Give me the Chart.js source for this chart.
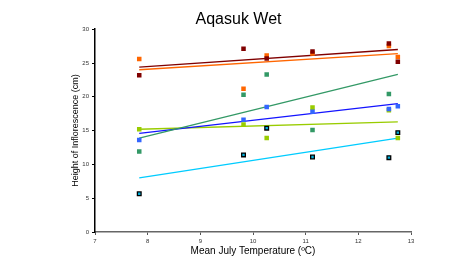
<!DOCTYPE html>
<html>
<head>
<meta charset="utf-8">
<script src="https://cdn.jsdelivr.net/npm/chart.js@4"></script>
<style>
  html, body { margin: 0; padding: 0; background: #fff; }
  #chart { display: block; }
</style>
</head>
<body>
<canvas id="chart" width="469" height="258"></canvas>
<script>
// site temperatures (x) and inflorescence heights per series
const temps = [7.84, 9.82, 10.26, 11.13, 12.58, 12.75];
const darkRed = [23.2, 27.1, 25.65, 26.7, 27.9, 25.2];
const orange = [25.6, 21.2, 26.1, 26.4, 27.5, 25.9];
const green = [11.9, 20.3, 23.3, 15.1, 20.4, null];
const blue = [13.6, 16.6, 18.5, 17.8, 18.2, 18.6];
const yellowGreen = [15.2, 15.9, 13.9, 18.4, 18.0, 13.9];
const cyan = [5.66, 11.4, 15.36, 11.1, 11.0, 14.7];

// trend line ends
const trendX = [7.84, 12.75];
const trendDarkRed = [24.4, 27.0];
const trendOrange = [24.0, 26.4];
const trendGreen = [13.9, 23.3];
const trendBlue = [14.6, 19.0];
const trendYellowGreen = [15.2, 16.3];
const trendCyan = [8.0, 13.9];

const xTicks = [7, 8, 9, 10, 11, 12, 13];
const yTicks = [0, 5, 10, 15, 20, 25, 30];

function pts(xs, ys) {
    return xs.map((x, i) => ({ x: x, y: ys[i] })).filter(p => p.y !== null);
}

function pointSet(ys, color, border) {
    return {
        data: pts(temps, ys),
        pointStyle: 'rect',
        pointRadius: border ? 2.6 : 3.2,
        pointBackgroundColor: color,
        pointBorderColor: border || color,
        pointBorderWidth: border ? 1.3 : 0,
        showLine: false,
        order: 0
    };
}

function trendSet(ys, color) {
    return {
        data: pts(trendX, ys),
        showLine: true,
        borderColor: color,
        borderWidth: 1.3,
        pointRadius: 0,
        fill: false,
        order: 1
    };
}

const tickFont = { family: 'Liberation Sans, Arial', size: 6 };

new Chart(document.getElementById('chart').getContext('2d'), {
    type: 'scatter',
    data: {
        datasets: [
            trendSet(trendDarkRed, '#800000'),
            trendSet(trendOrange, '#ff6600'),
            trendSet(trendGreen, '#339966'),
            trendSet(trendBlue, '#1414ff'),
            trendSet(trendYellowGreen, '#99cc00'),
            trendSet(trendCyan, '#00ccff'),
            pointSet(darkRed, '#800000'),
            pointSet(orange, '#ff6600'),
            pointSet(green, '#339966'),
            pointSet(blue, '#3366ff'),
            pointSet(yellowGreen, '#99cc00'),
            pointSet(cyan, '#00b0dd', '#000000')
        ]
    },
    options: {
        responsive: false,
        animation: false,
        layout: { padding: { left: 66, right: 58, top: 0, bottom: 0 } },
        plugins: {
            legend: { display: false },
            tooltip: { enabled: false },
            title: {
                display: true,
                text: 'Aqasuk Wet',
                color: '#000',
                font: { family: 'Liberation Sans, Arial', size: 16, weight: 'normal' },
                padding: { top: 10, bottom: 0 }
            }
        },
        scales: {
            x: {
                type: 'linear',
                min: 7,
                max: 13,
                afterBuildTicks: s => { s.ticks = xTicks.map(v => ({ value: v })); },
                afterFit: s => { s.height = 26; },
                ticks: { color: '#333', font: tickFont, padding: 3 },
                grid: { display: true, drawOnChartArea: false, drawTicks: true, tickLength: 3, color: '#555' },
                border: { color: '#666', width: 1.5 },
                title: {
                    display: true,
                    text: 'Mean July Temperature (ºC)',
                    color: '#000',
                    font: { family: 'Liberation Sans, Arial', size: 10 },
                    padding: { top: 0, bottom: 1 }
                }
            },
            y: {
                min: 0,
                max: 30,
                afterBuildTicks: s => { s.ticks = yTicks.map(v => ({ value: v })); },
                afterFit: s => { s.width = 29; },
                ticks: { color: '#333', font: tickFont, padding: 3 },
                grid: { display: true, drawOnChartArea: false, drawTicks: true, tickLength: 3, color: '#000' },
                border: { color: '#000', width: 1.5 },
                title: {
                    display: true,
                    text: 'Height of Inflorescence (cm)',
                    color: '#000',
                    font: { family: 'Liberation Sans, Arial', size: 9 },
                    padding: { top: 4, bottom: 0 }
                }
            }
        }
    }
});
</script>
</body>
</html>
